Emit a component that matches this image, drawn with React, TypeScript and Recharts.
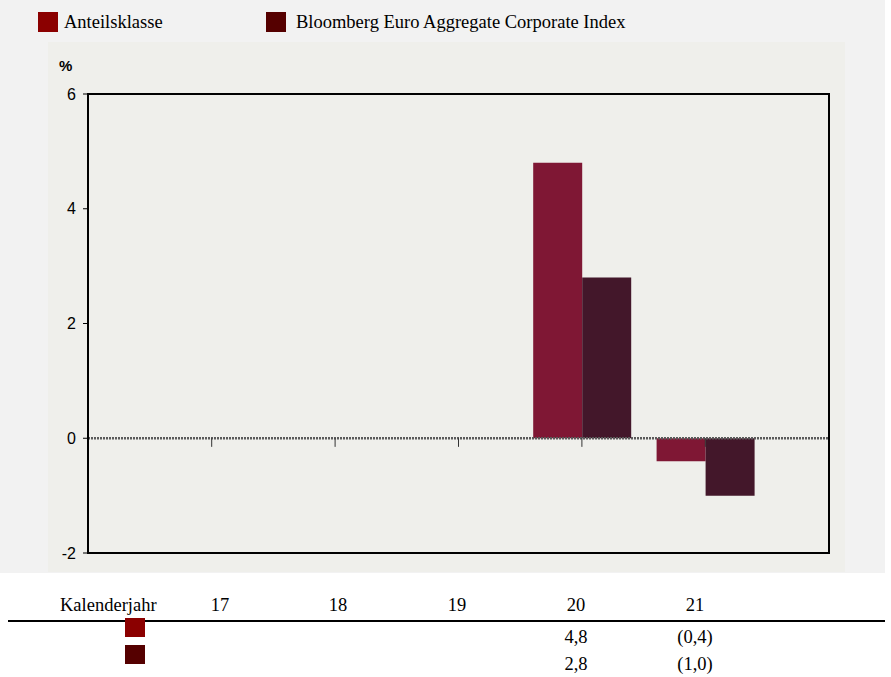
import React from "react";
import {
  BarChart,
  Bar,
  XAxis,
  YAxis,
  ReferenceLine,
} from "recharts";

const years = ["17", "18", "19", "20", "21"];
const fundValues: (number | null)[] = [null, null, null, 4.8, -0.4];
const indexValues: (number | null)[] = [null, null, null, 2.8, -1.0];
const fundLabels = ["", "", "", "4,8", "(0,4)"];
const indexLabels = ["", "", "", "2,8", "(1,0)"];
const yTicks = [-2, 0, 2, 4, 6];

const fundName = "Anteilsklasse";
const indexName = "Bloomberg Euro Aggregate Corporate Index";

const data = years.map((y, i) => ({
  year: y,
  fund: fundValues[i],
  index: indexValues[i],
}));

const serif = '"Liberation Serif", "Times New Roman", serif';
const sans = '"Liberation Sans", Arial, sans-serif';

// table column centers (the table below is not aligned with the plot ticks)
const colX = [220, 338, 457, 576, 695];

export default function App() {
  return (
    <div
      style={{
        position: "absolute",
        left: 0,
        top: 0,
        width: 891,
        height: 677,
        background: "#fff",
        fontFamily: serif,
      }}
    >
      <div style={{ position: "absolute", left: 0, top: 0, width: 885, height: 573, background: "#f2f2f2" }} />
      <div style={{ position: "absolute", left: 48, top: 42, width: 797, height: 530, background: "#efefeb" }} />
      {/* plot frame */}
      <div
        style={{
          position: "absolute",
          left: 87,
          top: 93,
          width: 743,
          height: 461,
          boxSizing: "border-box",
          border: "2px solid #000",
        }}
      />

      {/* legend */}
      <div style={{ position: "absolute", left: 38, top: 12, width: 20, height: 20, background: "#8b0000" }} />
      <div style={{ position: "absolute", left: 64, top: 11, fontSize: 18.5, lineHeight: "22px" }}>{fundName}</div>
      <div style={{ position: "absolute", left: 266, top: 12, width: 20, height: 20, background: "#550000" }} />
      <div style={{ position: "absolute", left: 296, top: 11, fontSize: 18.5, lineHeight: "22px" }}>{indexName}</div>

      <div style={{ position: "absolute", left: 59, top: 57, fontFamily: sans, fontWeight: "bold", fontSize: 15 }}>%</div>

      <div style={{ position: "absolute", left: 0, top: 0 }}>
        <BarChart
          width={891}
          height={573}
          data={data}
          margin={{ top: 94, right: 62, bottom: 20, left: 28 }}
          barGap={0}
          barSize={49}
        >
          <XAxis dataKey="year" hide padding={{ left: 62, right: 62 }} />
          <YAxis
            domain={[-2, 6]}
            ticks={yTicks}
            width={60}
            tickSize={5}
            tickMargin={7}
            axisLine={{ stroke: "#000", strokeWidth: 2 }}
            tickLine={{ stroke: "#000" }}
            tick={{ fill: "#000", fontSize: 16, fontFamily: sans }}
          />
          <Bar dataKey="fund" fill="#7f1734" isAnimationActive={false} />
          <Bar dataKey="index" fill="#43172a" isAnimationActive={false} />
          <ReferenceLine y={0} stroke="#5a5a5a" strokeWidth={2.5} strokeDasharray="2 1" />
          {years.map((y) => (
            <ReferenceLine
              key={y}
              segment={[
                { x: y, y: 0 },
                { x: y, y: -0.15 },
              ]}
              stroke="#333"
              strokeWidth={1}
            />
          ))}
        </BarChart>
      </div>

      {/* data table */}
      <div style={{ position: "absolute", left: 60, top: 594, fontSize: 18.5, lineHeight: "22px" }}>Kalenderjahr</div>
      {years.map((y, i) => (
        <div
          key={y}
          style={{
            position: "absolute",
            left: colX[i] - 30,
            width: 60,
            textAlign: "center",
            top: 594,
            fontSize: 18.5,
            lineHeight: "22px",
          }}
        >
          {y}
        </div>
      ))}
      <div style={{ position: "absolute", left: 8, top: 620, width: 877, height: 2, background: "#000" }} />
      <div style={{ position: "absolute", left: 125, top: 618, width: 20, height: 19, background: "#8b0000" }} />
      <div style={{ position: "absolute", left: 125, top: 645, width: 20, height: 19, background: "#550000" }} />
      {years.map((y, i) => (
        <React.Fragment key={"v" + y}>
          <div
            style={{
              position: "absolute",
              left: colX[i] - 40,
              width: 80,
              textAlign: "center",
              top: 626,
              fontSize: 18.5,
              lineHeight: "22px",
            }}
          >
            {fundLabels[i]}
          </div>
          <div
            style={{
              position: "absolute",
              left: colX[i] - 40,
              width: 80,
              textAlign: "center",
              top: 653,
              fontSize: 18.5,
              lineHeight: "22px",
            }}
          >
            {indexLabels[i]}
          </div>
        </React.Fragment>
      ))}
    </div>
  );
}
